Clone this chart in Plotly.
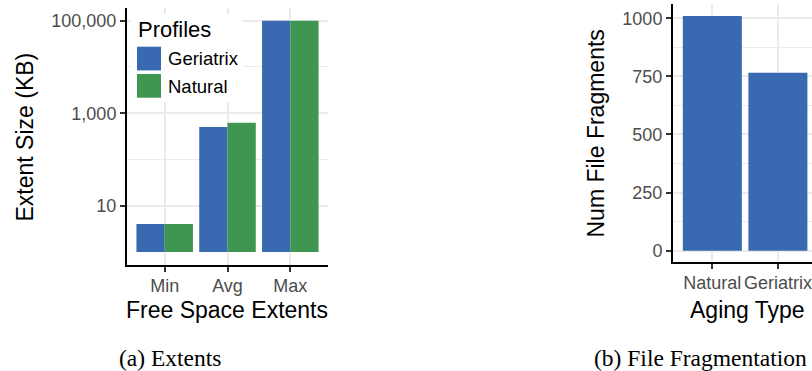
import plotly.graph_objects as go

# ---------------- data ----------------
extent_categories = ["Min", "Avg", "Max"]
geriatrix_extents = [4, 500, 100000]
natural_extents = [4, 620, 100000]
extent_tickvals = [10, 1000, 100000]
extent_ticktext = ["10", "1,000", "100,000"]
extent_minor_vals = [100, 10000]

aging_types = ["Natural", "Geriatrix"]
file_fragments = [1010, 765]
fragment_tickvals = [0, 250, 500, 750, 1000]

profile_names = ["Geriatrix", "Natural"]
BLUE = "#396AB1"
GREEN = "#3E9651"

W, H = 812, 371


def px(x):
    return x / W


def py(y):
    return 1 - y / H


SANS = "Liberation Sans, Arial, Helvetica, sans-serif"
SERIF = "Liberation Serif, Times New Roman, serif"
TICKFONT = dict(family=SANS, size=18, color="#4D4D4D")
GRID = "#EBEBEB"
BAR_BASE = 1

fig = go.Figure()

fig.add_trace(go.Bar(
    x=extent_categories, y=[v - BAR_BASE for v in geriatrix_extents], base=BAR_BASE,
    marker=dict(color=BLUE, line=dict(width=0)), name=profile_names[0],
    xaxis="x", yaxis="y", showlegend=False))
fig.add_trace(go.Bar(
    x=extent_categories, y=[v - BAR_BASE for v in natural_extents], base=BAR_BASE,
    marker=dict(color=GREEN, line=dict(width=0)), name=profile_names[1],
    xaxis="x", yaxis="y", showlegend=False))
fig.add_trace(go.Bar(
    x=aging_types, y=file_fragments,
    marker=dict(color=BLUE, line=dict(width=0)), name="Fragments",
    xaxis="x2", yaxis="y2", showlegend=False))

axis_common = dict(
    showline=True, linecolor="black", linewidth=2,
    ticks="outside", ticklen=5, tickwidth=1.5, tickcolor="#333333",
    tickfont=TICKFONT, showgrid=True, gridcolor=GRID, gridwidth=1.8,
    zeroline=False, fixedrange=True, automargin=False,
)

fig.update_layout(
    width=W, height=H, autosize=False,
    margin=dict(l=0, r=0, t=0, b=0),
    paper_bgcolor="white", plot_bgcolor="white",
    barmode="group", bargap=0.1, bargroupgap=0,
    showlegend=False,
    xaxis=dict(domain=[px(127), px(328)], anchor="y",
               type="category", range=[-0.6, 2.6], tickangle=0,
               ticklabelstandoff=-2, **axis_common),
    yaxis=dict(domain=[py(265), py(8.3)], anchor="x",
               type="log", range=[-0.282, 5.268],
               tickvals=extent_tickvals, ticktext=extent_ticktext,
               minor=dict(tickvals=extent_minor_vals, showgrid=True,
                          gridcolor=GRID, gridwidth=1, ticks=""),
               **axis_common),
    xaxis2=dict(domain=[px(673), 1.0], anchor="y2",
                type="category", range=[-0.6, 1.52], tickangle=0,
                ticklabelstandoff=-2, **axis_common),
    yaxis2=dict(domain=[py(262), py(4.3)], anchor="x2",
                range=[-48.6, 1060], tickvals=fragment_tickvals,
                minor=dict(dtick=125, showgrid=True, gridcolor=GRID,
                           gridwidth=1, ticks=""),
                **axis_common),
)

shapes = []
annotations = []

# manual legend (ggplot-style with big keys)
shapes.append(dict(type="rect", xref="paper", yref="paper",
                   x0=px(131), x1=px(243), y0=py(102), y1=py(14),
                   fillcolor="white", line=dict(width=0), layer="above"))
key_colors = [BLUE, GREEN]
key_tops = [46.7, 74.0]
for name, col, top in zip(profile_names, key_colors, key_tops):
    shapes.append(dict(type="rect", xref="paper", yref="paper",
                       x0=px(137), x1=px(161), y0=py(top + 23.7), y1=py(top),
                       fillcolor=col, line=dict(width=0), layer="above"))
    annotations.append(dict(text=name, xref="paper", yref="paper",
                            x=px(166), y=py(top + 12), xanchor="left",
                            yanchor="middle", showarrow=False,
                            font=dict(family=SANS, size=18.5, color="black")))
annotations.append(dict(text="Profiles", xref="paper", yref="paper",
                        x=px(135.5), y=py(29), xanchor="left", yanchor="middle",
                        showarrow=False,
                        font=dict(family=SANS, size=22, color="black")))

# axis titles
title_font = dict(family=SANS, size=23, color="black")
annotations += [
    dict(text="Free Space Extents", xref="paper", yref="paper",
         x=px(226.5), y=py(310), xanchor="center", yanchor="middle",
         showarrow=False, font=title_font),
    dict(text="Aging Type", xref="paper", yref="paper",
         x=px(747.5), y=py(310), xanchor="center", yanchor="middle",
         showarrow=False, font=title_font),
    dict(text="Extent Size (KB)", xref="paper", yref="paper",
         x=px(24), y=py(137.5), xanchor="center", yanchor="middle",
         textangle=-90, showarrow=False, font=title_font),
    dict(text="Num File Fragments", xref="paper", yref="paper",
         x=px(595), y=py(133.5), xanchor="center", yanchor="middle",
         textangle=-90, showarrow=False, font=title_font),
]

# captions
cap_font = dict(family=SERIF, size=23.5, color="black")
annotations += [
    dict(text="(a) Extents", xref="paper", yref="paper",
         x=px(170), y=py(358), xanchor="center", yanchor="middle",
         showarrow=False, font=cap_font),
    dict(text="(b) File Fragmentation", xref="paper", yref="paper",
         x=px(700.5), y=py(358), xanchor="center", yanchor="middle",
         showarrow=False, font=cap_font),
]

fig.update_layout(shapes=shapes, annotations=annotations)

fig.write_html("out.html")
